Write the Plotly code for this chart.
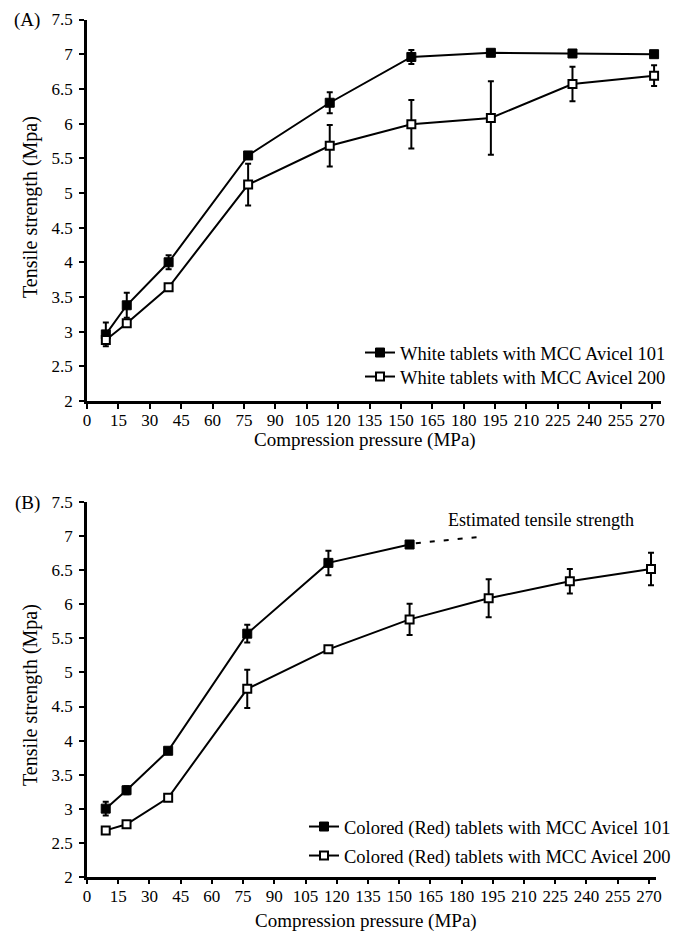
import plotly.graph_objects as go

W, H = 680, 934
FONT = "Liberation Serif"

# ---------------- data ----------------
pressure = [9, 19, 39, 77, 116, 155, 193, 232, 271]

a_101 = [2.96, 3.38, 4.00, 5.54, 6.30, 6.96, 7.02, 7.01, 7.00]
a_101_err = [0.17, 0.18, 0.10, 0.03, 0.15, 0.10, 0.0, 0.0, 0.0]
a_200 = [2.88, 3.12, 3.64, 5.12, 5.68, 5.99, 6.08, 6.57, 6.69]
a_200_err = [0.05, 0.0, 0.0, 0.30, 0.30, 0.35, 0.53, 0.25, 0.15]

b_pressure_101 = [9, 19, 39, 77, 116, 155]
b_101 = [3.00, 3.27, 3.85, 5.57, 6.61, 6.88]
b_101_err = [0.10, 0.06, 0.02, 0.13, 0.18, 0.0]
b_200 = [2.68, 2.77, 3.16, 4.76, 5.34, 5.78, 6.09, 6.34, 6.52]
b_200_err = [0.0, 0.0, 0.0, 0.28, 0.0, 0.23, 0.28, 0.18, 0.24]

est_x = [158, 188]
est_y = [6.90, 6.99]

x_ticks = list(range(0, 271, 15))
y_ticks = [2, 2.5, 3, 3.5, 4, 4.5, 5, 5.5, 6, 6.5, 7, 7.5]

names_a = ["White tablets with MCC Avicel 101", "White tablets with MCC Avicel 200"]
names_b = ["Colored (Red) tablets with MCC Avicel 101", "Colored (Red) tablets with MCC Avicel 200"]


def px(x):
    return x / W


def py(y):
    return 1 - y / H


fig = go.Figure()


def err(arr):
    return dict(type="data", array=arr, visible=True, color="black", thickness=2, width=3)


filled = dict(symbol="square", size=9, color="black", line=dict(color="black", width=1))
opened = dict(symbol="square", size=8, color="white", line=dict(color="black", width=2))
ln = dict(color="black", width=2)

# Panel A
fig.add_trace(go.Scatter(x=pressure, y=a_101, error_y=err(a_101_err), mode="lines+markers",
                         marker=filled, line=ln, name=names_a[0], xaxis="x", yaxis="y",
                         legend="legend"))
fig.add_trace(go.Scatter(x=pressure, y=a_200, error_y=err(a_200_err), mode="lines+markers",
                         marker=opened, line=ln, name=names_a[1], xaxis="x", yaxis="y",
                         legend="legend2"))

# Panel B
fig.add_trace(go.Scatter(x=est_x, y=est_y, mode="lines",
                         line=dict(color="black", width=2, dash="5px,9px"),
                         showlegend=False, xaxis="x2", yaxis="y2", hoverinfo="skip"))
fig.add_trace(go.Scatter(x=b_pressure_101, y=b_101, error_y=err(b_101_err), mode="lines+markers",
                         marker=filled, line=ln, name=names_b[0], xaxis="x2", yaxis="y2",
                         legend="legend3"))
fig.add_trace(go.Scatter(x=pressure, y=b_200, error_y=err(b_200_err), mode="lines+markers",
                         marker=opened, line=ln, name=names_b[1], xaxis="x2", yaxis="y2",
                         legend="legend4"))

axis_common = dict(showgrid=False, zeroline=False, showline=True, linecolor="black", linewidth=2.5,
                   ticks="outside", ticklen=5, tickwidth=2, tickcolor="black", automargin=False,
                   tickfont=dict(family=FONT, size=17, color="black"))
xax = dict(ticklabelstandoff=-3, **axis_common)
yax = dict(ticklabelstandoff=3, **axis_common)


def leg(xr, yc):
    return dict(x=px(xr), xanchor="right", y=py(yc), yanchor="middle", bgcolor="rgba(0,0,0,0)",
                font=dict(family=FONT, size=18.5, color="black"))


fig.update_layout(
    width=W, height=H,
    margin=dict(l=0, r=0, t=0, b=0, autoexpand=False),
    paper_bgcolor="white", plot_bgcolor="white",
    font=dict(family=FONT, color="black"),
    xaxis=dict(domain=[px(87), px(661)], range=[0, 274.3], tickvals=x_ticks, anchor="y", **xax),
    yaxis=dict(domain=[py(401), py(19.5)], range=[2, 7.5], tickvals=y_ticks, anchor="x", **yax),
    xaxis2=dict(domain=[px(87), px(656)], range=[0, 273.4], tickvals=x_ticks, anchor="y2", **xax),
    yaxis2=dict(domain=[py(876.7), py(502.3)], range=[2, 7.5], tickvals=y_ticks, anchor="x2", **yax),
    legend=leg(671, 353),
    legend2=leg(671, 377),
    legend3=leg(676, 827),
    legend4=leg(676, 856),
)

ann = []


def text(t, x, y, size, angle=0):
    ann.append(dict(text=t, x=px(x), y=py(y), xref="paper", yref="paper", xanchor="center",
                    yanchor="middle", textangle=angle, showarrow=False,
                    font=dict(family=FONT, size=size, color="black")))


text("(A)", 27, 20, 19)
text("(B)", 27, 503, 19)
text("Tensile strength (Mpa)", 30, 207, 20, -90)
text("Tensile strength (Mpa)", 30, 695, 20, -90)
text("Compression pressure (MPa)", 365, 440, 19)
text("Compression pressure (MPa)", 366, 921, 19)
ann.append(dict(text="Estimated tensile strength", x=218, y=7.24, xref="x2", yref="y2",
                xanchor="center", yanchor="middle", showarrow=False,
                font=dict(family=FONT, size=18, color="black")))
fig.update_layout(annotations=ann)

fig.write_html("out.html", config={"displayModeBar": False},
               post_script="document.body.style.margin='0';document.body.style.overflow='hidden';")
